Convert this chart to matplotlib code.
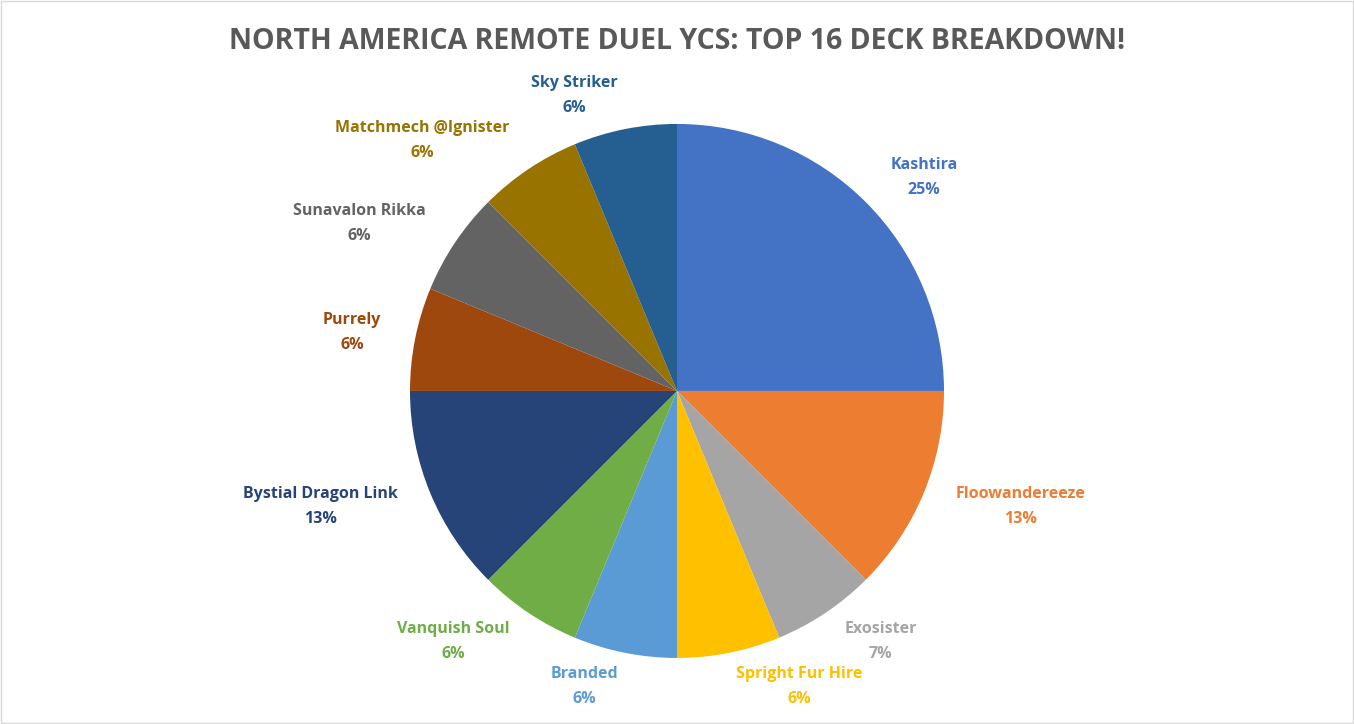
import matplotlib.pyplot as plt
from matplotlib.patches import Rectangle

decks = ['Kashtira', 'Floowandereeze', 'Exosister', 'Spright Fur Hire', 'Branded',
         'Vanquish Soul', 'Bystial Dragon Link', 'Purrely', 'Sunavalon Rikka',
         'Matchmech @Ignister', 'Sky Striker']
counts = [4, 2, 1, 1, 1, 1, 2, 1, 1, 1, 1]
percentLabels = ['25%', '13%', '7%', '6%', '6%', '6%', '13%', '6%', '6%', '6%', '6%']
colors = ['#4472C4', '#ED7D31', '#A5A5A5', '#FFC000', '#5B9BD5', '#70AD47',
          '#264478', '#9E480E', '#636363', '#997300', '#255E91']

plt.rcParams['font.family'] = ['Open Sans', 'DejaVu Sans']

figure = plt.figure(figsize=(13.54, 7.24), dpi=100)
figure.patches.append(Rectangle((0.001, 0.001), 0.998, 0.998, transform=figure.transFigure,
                                fill=False, edgecolor='#D9D9D9', linewidth=1))

axis = figure.add_axes([0.3028, 0.0912, 0.3944, 0.7376])
labels = ['{}\n{}'.format(name, pct) for name, pct in zip(decks, percentLabels)]
wedges, texts = axis.pie(counts, colors=colors, startangle=90, counterclock=False,
                         labels=labels, labeldistance=1.13,
                         textprops=dict(fontsize=11.5, fontweight='bold'))
for text, color in zip(texts, colors):
    text.set_color(color)
    x, y = text.get_position()
    text.set_horizontalalignment('left' if x > 0 else 'right')
    text.set_multialignment('center')
    text.set_verticalalignment('center')
    text.set_linespacing(1.75)
axis.set_xlim(-1, 1)
axis.set_ylim(-1, 1)
axis.set_aspect('equal')

figure.text(0.5, 0.942, 'NORTH AMERICA REMOTE DUEL YCS: TOP 16 DECK BREAKDOWN!',
            ha='center', va='center', fontsize=20.5, fontweight='bold', color='#595959')

plt.savefig('out.png')
